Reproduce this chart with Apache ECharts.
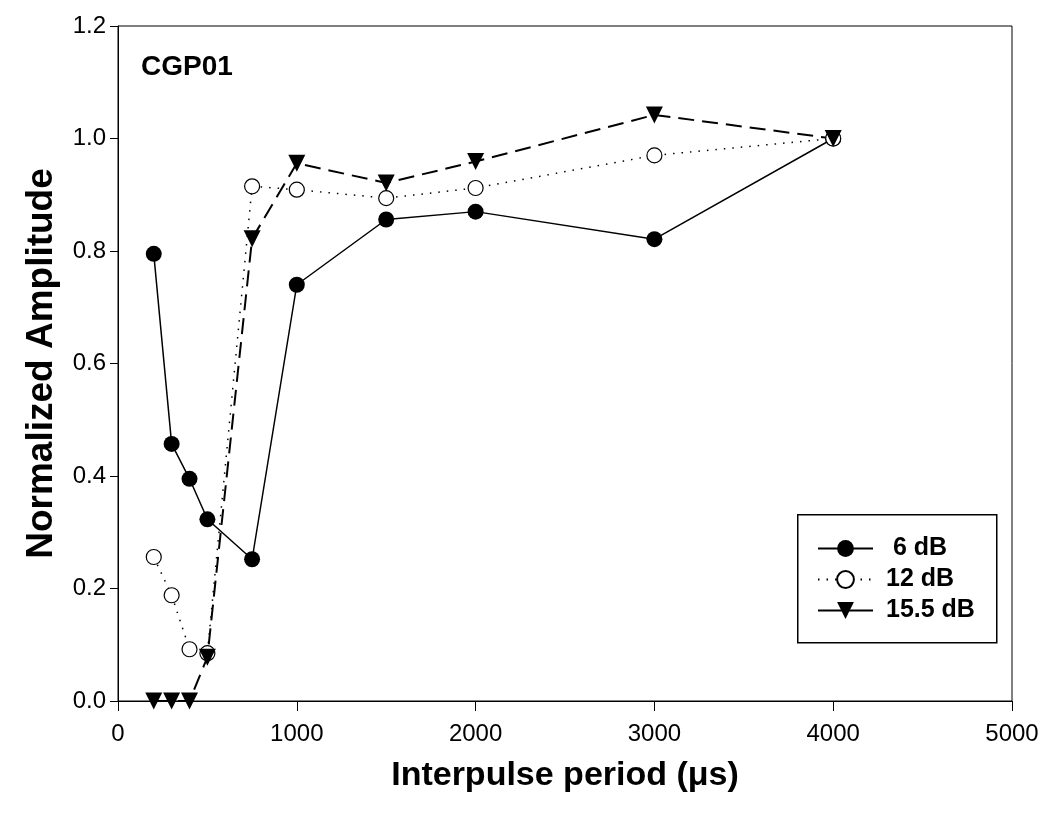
<!DOCTYPE html>
<html>
<head>
<meta charset="utf-8">
<script src="https://cdn.jsdelivr.net/npm/echarts@6/dist/echarts.min.js"></script>
<style>
  html, body { margin: 0; padding: 0; background: #fff; }
  #chart { width: 1042px; height: 817px; }
</style>
</head>
<body>
<div id="chart"></div>
<script>
// interpulse periods (µs) and normalized amplitudes
const periods = [200, 300, 400, 500, 750, 1000, 1500, 2000, 3000, 4000];
const amp6dB = [0.795, 0.457, 0.395, 0.323, 0.252, 0.740, 0.856, 0.870, 0.821, 1.0];
const amp12dB = [0.256, 0.188, 0.092, 0.085, 0.915, 0.909, 0.894, 0.912, 0.970, 1.0];
const amp155dB = [0.0, 0.0, 0.0, 0.078, 0.822, 0.956, 0.921, 0.959, 1.042, 1.0];
const seriesNames = [' 6 dB', '12 dB', '15.5 dB'];

const font = '"Liberation Sans", Arial, sans-serif';
const pairs = ys => periods.map((x, i) => [x, ys[i]]);

const chart = echarts.init(document.getElementById('chart'));

chart.setOption({
    animation: false,
    backgroundColor: '#fff',
    grid: {
        left: 118,
        right: 30,
        top: 26,
        bottom: 116,
        show: true,
        borderColor: '#000',
        borderWidth: 1
    },
    graphic: [
        {
            type: 'rect',
            left: 797,
            top: 514,
            shape: { width: 199, height: 128 },
            style: { fill: '#fff', stroke: '#000', lineWidth: 1.5 },
            z: 50
        },
        {
            type: 'text',
            left: 141,
            top: 53,
            style: { text: 'CGP01', font: 'bold 28px ' + font, fill: '#000' },
            z: 60
        }
    ],
    legend: {
        orient: 'vertical',
        left: 812,
        top: 531,
        itemWidth: 55,
        itemHeight: 21,
        itemGap: 6,
        textStyle: { fontFamily: font, fontWeight: 'bold', fontSize: 25, color: '#000', lineHeight: 25, padding: [0, 0, 0, 8] },
        data: [
            { name: seriesNames[0] },
            { name: seriesNames[1] },
            { name: seriesNames[2], lineStyle: { type: 'solid' } }
        ],
        z: 60
    },
    xAxis: {
        type: 'value',
        min: 0,
        max: 5000,
        interval: 1000,
        name: 'Interpulse period (\u03bcs)',
        nameLocation: 'middle',
        nameGap: 58,
        nameTextStyle: { fontFamily: font, fontWeight: 'bold', fontSize: 34, color: '#000' },
        axisLine: { lineStyle: { color: '#000', width: 1 } },
        axisTick: { length: 10, lineStyle: { color: '#000' } },
        axisLabel: { fontFamily: font, fontSize: 24, color: '#000', margin: 21, formatter: v => String(v) },
        splitLine: { show: false }
    },
    yAxis: {
        type: 'value',
        min: 0,
        max: 1.2,
        interval: 0.2,
        name: 'Normalized Amplitude',
        nameLocation: 'middle',
        nameGap: 58,
        nameTextStyle: { fontFamily: font, fontWeight: 'bold', fontSize: 37, color: '#000' },
        axisLine: { show: true, lineStyle: { color: '#000', width: 1 } },
        axisTick: { show: true, length: 8, lineStyle: { color: '#000' } },
        axisLabel: { fontFamily: font, fontSize: 24, color: '#000', margin: 12, formatter: v => v.toFixed(1) },
        splitLine: { show: false }
    },
    series: [
        {
            name: seriesNames[0],
            type: 'line',
            data: pairs(amp6dB),
            symbol: 'circle',
            symbolSize: 16,
            itemStyle: { color: '#000' },
            lineStyle: { color: '#000', width: 1.5, type: 'solid' }
        },
        {
            name: seriesNames[1],
            type: 'line',
            data: pairs(amp12dB),
            symbol: 'circle',
            symbolSize: 15,
            itemStyle: { color: '#fff', borderColor: '#000', borderWidth: 1.2 },
            lineStyle: { color: '#000', width: 1.5, type: [1.5, 7] }
        },
        {
            name: seriesNames[2],
            type: 'line',
            data: pairs(amp155dB),
            symbol: 'triangle',
            symbolRotate: 180,
            symbolSize: 17,
            itemStyle: { color: '#000' },
            lineStyle: { color: '#000', width: 2, type: [16, 8] }
        }
    ]
});
</script>
</body>
</html>
